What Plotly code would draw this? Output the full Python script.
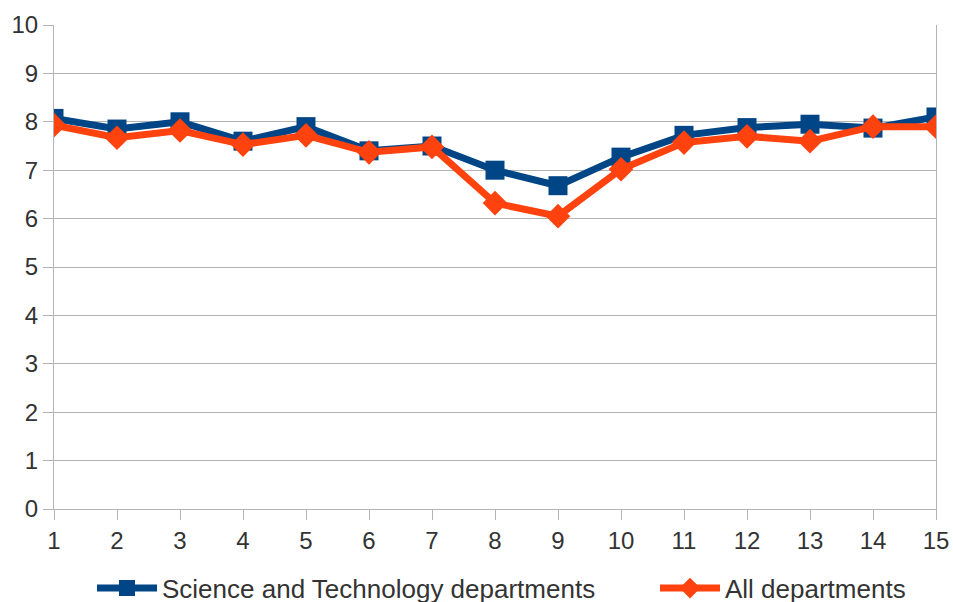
import plotly.graph_objects as go

x_labels = list(range(1, 16))
sci_tech = [8.07, 7.85, 8.0, 7.6, 7.9, 7.4, 7.5, 7.0, 6.68, 7.27, 7.72, 7.88, 7.95, 7.87, 8.1]
all_depts = [7.93, 7.67, 7.82, 7.53, 7.72, 7.37, 7.48, 6.32, 6.05, 7.02, 7.57, 7.7, 7.6, 7.9, 7.9]
y_ticks = list(range(0, 11))

fig = go.Figure()
fig.add_trace(go.Scatter(
    x=x_labels, y=sci_tech, mode="lines+markers",
    name="Science and Technology departments",
    line=dict(color="#004586", width=7),
    marker=dict(symbol="square", size=19, color="#004586"),
    legend="legend",
))
fig.add_trace(go.Scatter(
    x=x_labels, y=all_depts, mode="lines+markers",
    name="All departments",
    line=dict(color="#ff420e", width=7),
    marker=dict(symbol="diamond", size=19, color="#ff420e"),
    legend="legend2",
))

grid = "#b3b3b3"
leg_common = dict(orientation="h", xanchor="left", xref="container",
                  y=0.023, yanchor="middle", yref="container",
                  font=dict(size=26, color="#333333"), itemwidth=60)
fig.update_layout(
    width=953, height=602,
    margin=dict(l=54, r=17, t=25, b=93, autoexpand=False),
    paper_bgcolor="white", plot_bgcolor="white",
    font=dict(family="Liberation Sans, Arial, sans-serif", size=24, color="#333333"),
    showlegend=True,
    legend=dict(x=92 / 953, **leg_common),
    legend2=dict(x=655 / 953, **leg_common),
    xaxis=dict(range=[1, 15], tickvals=x_labels, ticktext=[str(v) for v in x_labels],
               showgrid=False, zeroline=False, showline=True, linecolor=grid, linewidth=1,
               ticks="outside", ticklen=10, tickcolor=grid, tickwidth=1, mirror=False,
               automargin=False),
    yaxis=dict(range=[0, 10], tickvals=y_ticks, showgrid=True, gridcolor=grid, gridwidth=1,
               zeroline=False, showline=True, linecolor=grid, linewidth=1, mirror=True,
               ticks="outside", ticklen=10, tickcolor=grid, tickwidth=1, automargin=False),
)

fig.write_html("out.html", config={"displayModeBar": False},
               post_script="document.body.style.margin='0';")
